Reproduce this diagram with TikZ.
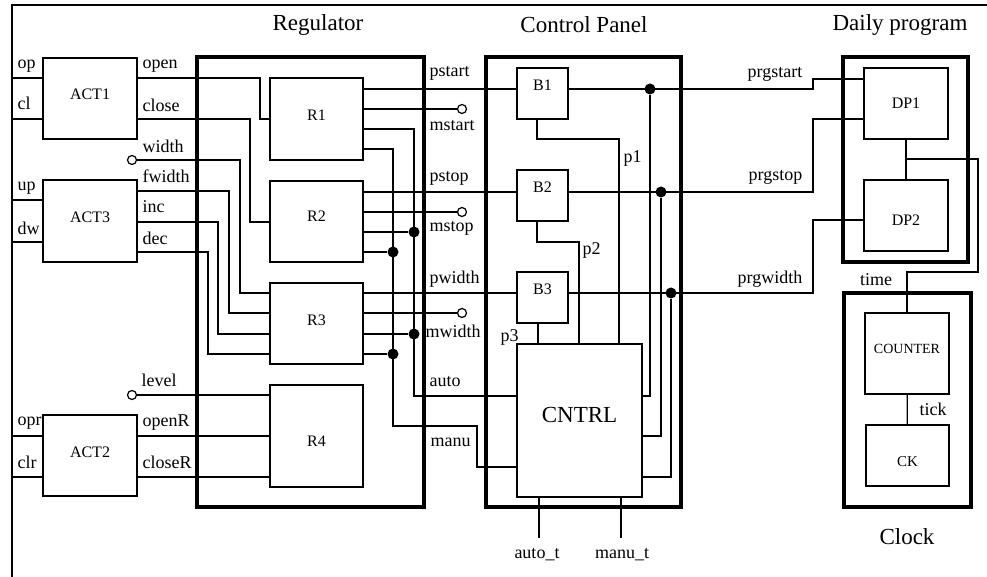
\documentclass[tikz,border=0pt]{standalone}
\usepackage{fontspec}
\setmainfont{Liberation Serif}
\newcommand\lblfont{\fontsize{9}{10}\selectfont}
\tikzset{
  wire/.style={line width=0.6pt},
  blk/.style={draw, line width=0.6pt, inner sep=0pt, font=\fontsize{8}{9}\selectfont},
  grp/.style={draw, line width=1.6pt, inner sep=0pt},
  lbl/.style={inner sep=0pt, font=\lblfont},
  ttl/.style={inner sep=0pt, font=\fontsize{11.5}{13}\selectfont},
  port/.style={circle, draw, fill=white, line width=0.6pt, inner sep=0pt, minimum size=4.5pt},
  joint/.style={circle, fill, inner sep=0pt, minimum size=5.5pt},
  txtup/.style={text depth=#1},
  txtdown/.style={text height=#1},
}
\begin{document}
\begin{tikzpicture}[x=0.5pt,y=-0.5pt,wire]
  \useasboundingbox (0,0) rectangle (987,577);
  \draw (12,577) -- (12,5) -- (987,5);

  % groups
  \node[grp, minimum width=113.5pt, minimum height=225pt] (reg) at (310.5,282) {};
  \node[grp, minimum width=97.5pt, minimum height=225pt] (cpan) at (583.5,282) {};
  \node[grp, minimum width=62.5pt, minimum height=102.5pt] (dprog) at (905.5,159.5) {};
  \node[grp, minimum width=63.5pt, minimum height=107pt] (clk) at (907.5,400) {};
  \node[ttl] (regT) at (318,25) {Regulator};
  \node[ttl] (cpanT) at (584,25) {Control Panel};
  \node[ttl] (dprogT) at (900,25) {Daily program};
  \node[ttl] (clkT) at (907,537) {Clock};

  % blocks
  \node[blk, txtup=4pt, minimum width=47pt, minimum height=40.5pt] (act1) at (90,98.5) {ACT1};
  \node[blk, txtup=4pt, minimum width=47pt, minimum height=41pt] (act3) at (90,221) {ACT3};
  \node[blk, txtup=3pt, minimum width=47pt, minimum height=40.5pt] (act2) at (90,455.5) {ACT2};
  \node[blk, txtup=4pt, minimum width=46.5pt, minimum height=41pt] (r1) at (316.5,119) {R1};
  \node[blk, txtup=5pt, minimum width=46.5pt, minimum height=40.5pt] (r2) at (316.5,221.5) {R2};
  \node[blk, txtup=3.5pt, minimum width=46.5pt, minimum height=40.5pt] (r3) at (316.5,323.5) {R3};
  \node[blk, txtdown=10.5pt, minimum width=46.5pt, minimum height=51pt] (r4) at (316.5,436) {R4};
  \node[blk, txtup=8pt, minimum width=25.5pt, minimum height=25.5pt] (b1) at (542.5,93.5) {B1};
  \node[blk, txtup=8pt, minimum width=25.5pt, minimum height=25.5pt] (b2) at (542.5,195.5) {B2};
  \node[blk, txtup=8pt, minimum width=25.5pt, minimum height=25.5pt] (b3) at (542.5,297.5) {B3};
  \node[blk, txtup=6pt, minimum width=62.5pt, minimum height=76.5pt, font=\fontsize{11.5}{13}\selectfont] (cntrl) at (579.5,420.5) {CNTRL};
  \node[blk, minimum width=42pt, minimum height=35.5pt] (dp1) at (906,103.5) {DP1};
  \node[blk, txtdown=10pt, minimum width=42pt, minimum height=35.5pt] (dp2) at (906,215.5) {DP2};
  \node[blk, txtup=5pt, minimum width=42pt, minimum height=40.5pt, font=\fontsize{7}{8}\selectfont] (cnt) at (907,353.5) {COUNTER};
  \node[blk, txtdown=11pt, minimum width=41.5pt, minimum height=30.5pt, font=\fontsize{7.5}{8}\selectfont] (ck) at (907.5,455.5) {CK};

  % terminals
  \node[port] (wdt) at (132,160) {};
  \node[port] (lvl) at (132,395) {};
  \node[port] (mst) at (462,109) {};
  \node[port] (msp) at (462,212) {};
  \node[port] (mwd) at (462,313) {};

  % actuator side
  \draw (12,78) -- (act1.west |- 0,78);
  \draw (12,119) -- (act1.west |- 0,119);
  \draw (12,200) -- (act3.west |- 0,200);
  \draw (12,242) -- (act3.west |- 0,242);
  \draw (12,436) -- (act2.west |- 0,436);
  \draw (12,477) -- (act2.west |- 0,477);
  \draw (act1.east |- 0,78) -- (260,78) |- (r1.west |- 0,119);
  \draw (act1.east |- 0,119) -- (250,119) |- (r2.west |- 0,222);
  \draw (wdt) -- (240,160) |- (r3.west |- 0,293);
  \draw (act3.east |- 0,191) -- (229,191) |- (r3.west |- 0,313);
  \draw (act3.east |- 0,222) -- (218,222) |- (r3.west |- 0,334);
  \draw (act3.east |- 0,252) -- (208,252) |- (r3.west |- 0,354);
  \draw (lvl) -- (r4.west |- 0,395);
  \draw (act2.east |- 0,436) -- (r4.west |- 0,436);
  \draw (act2.east |- 0,477) -- (r4.west |- 0,477);

  % regulator outputs
  \draw (r1.east |- 0,89) -- (b1.west |- 0,89);
  \draw (r2.east |- 0,192) -- (b2.west |- 0,192);
  \draw (r3.east |- 0,293) -- (b3.west |- 0,293);
  \draw (r1.east |- 0,109) -- (mst);
  \draw (r2.east |- 0,212) -- (msp);
  \draw (r3.east |- 0,313) -- (mwd);
  \draw (r1.east |- 0,129) -- (414,129) -- (414,396) -- (cntrl.west |- 0,396);
  \draw (r1.east |- 0,149) -- (393,149) -- (393,426) -- (477,426) |- (cntrl.west |- 0,467);
  \node[joint] (ja2) at (414,232) {};
  \node[joint] (jm2) at (393,252) {};
  \node[joint] (ja3) at (414,334) {};
  \node[joint] (jm3) at (393,354) {};
  \draw (r2.east |- 0,232) -- (ja2);
  \draw (r2.east |- 0,252) -- (jm2);
  \draw (r3.east |- 0,334) -- (ja3);
  \draw (r3.east |- 0,354) -- (jm3);

  % control panel
  \draw (b1.south -| 537,0) -- (537,139) -| (cntrl.north -| 619,0);
  \draw (b2.south -| 537,0) -- (537,242) -| (cntrl.north -| 579,0);
  \draw (b3.south -| 538,0) -- (cntrl.north -| 538,0);
  \node[joint] (js) at (650,89) {};
  \node[joint] (jp) at (661,192) {};
  \node[joint] (jw) at (671,293) {};
  \draw (js) -- (650,396) -- (cntrl.east |- 0,396);
  \draw (jp) -- (661,436) -- (cntrl.east |- 0,436);
  \draw (jw) -- (671,477) -- (cntrl.east |- 0,477);
  \coordinate (at) at (539,538);
  \coordinate (mt) at (621,538);
  \draw (cntrl.south -| at) -- (at);
  \draw (cntrl.south -| mt) -- (mt);

  % daily program and clock
  \draw (b1.east |- 0,89) -- (813,89) -- (813,79) -- (dp1.west |- 0,79);
  \draw (b2.east |- 0,192) -- (813,192) -- (813,119) -- (dp1.west |- 0,119);
  \draw (b3.east |- 0,293) -- (813,293) -- (813,220) -- (dp2.west |- 0,220);
  \draw (dp1) -- (dp2);
  \draw (907,159) -- (978,159) -- (978,272) -- (907,272) -- (cnt.north);
  \draw (cnt) -- (ck);

  % labels
  \node[lbl, anchor=west] (lop) at (17,66.5) {op};
  \node[lbl, anchor=west] (lcl) at (17,103) {cl};
  \node[lbl, anchor=west] (lup) at (17,188) {up};
  \node[lbl, anchor=west] (ldw) at (17,228) {dw};
  \node[lbl, anchor=west] (lopr) at (17,423) {opr};
  \node[lbl, anchor=west] (lclr) at (17,462) {clr};
  \node[lbl, anchor=west] (lopen) at (142,66) {open};
  \node[lbl, anchor=west] (lclose) at (142,105) {close};
  \node[lbl, anchor=west] (lwidth) at (142,146) {width};
  \node[lbl, anchor=west] (lfwidth) at (142,176) {fwidth};
  \node[lbl, anchor=west] (linc) at (142,207) {inc};
  \node[lbl, anchor=west] (ldec) at (142,238) {dec};
  \node[lbl, anchor=west] (llevel) at (141,380) {level};
  \node[lbl, anchor=west] (lopenR) at (142,423) {openR};
  \node[lbl, anchor=west] (lcloseR) at (142,462) {closeR};
  \node[lbl, anchor=west] (lpstart) at (429,73) {pstart};
  \node[lbl, anchor=west] (lmstart) at (429,126) {mstart};
  \node[lbl, anchor=west] (lpstop) at (429,178) {pstop};
  \node[lbl, anchor=west] (lmstop) at (429,228) {mstop};
  \node[lbl, anchor=west] (lpwidth) at (429,279) {pwidth};
  \node[lbl, anchor=west] (lmwidth) at (425,331) {mwidth};
  \node[lbl, anchor=west] (lauto) at (429,382) {auto};
  \node[lbl, anchor=west] (lmanu) at (430,442) {manu};
  \node[lbl, anchor=west] (lp1) at (623,158) {p1};
  \node[lbl, anchor=west] (lp2) at (582,250) {p2};
  \node[lbl, anchor=west] (lp3) at (500,337) {p3};
  \node[lbl, anchor=east] (lprgstart) at (803,74) {prgstart};
  \node[lbl, anchor=east] (lprgstop) at (803,177) {prgstop};
  \node[lbl, anchor=east] (lprgwidth) at (803,279) {prgwidth};
  \node[lbl] (ltime) at (876,280) {time};
  \node[lbl, anchor=west] (ltick) at (919,409) {tick};
  \node[lbl] (lauto_t) at (537,555) {auto\_t};
  \node[lbl] (lmanu_t) at (622,555) {manu\_t};
\end{tikzpicture}
\end{document}
